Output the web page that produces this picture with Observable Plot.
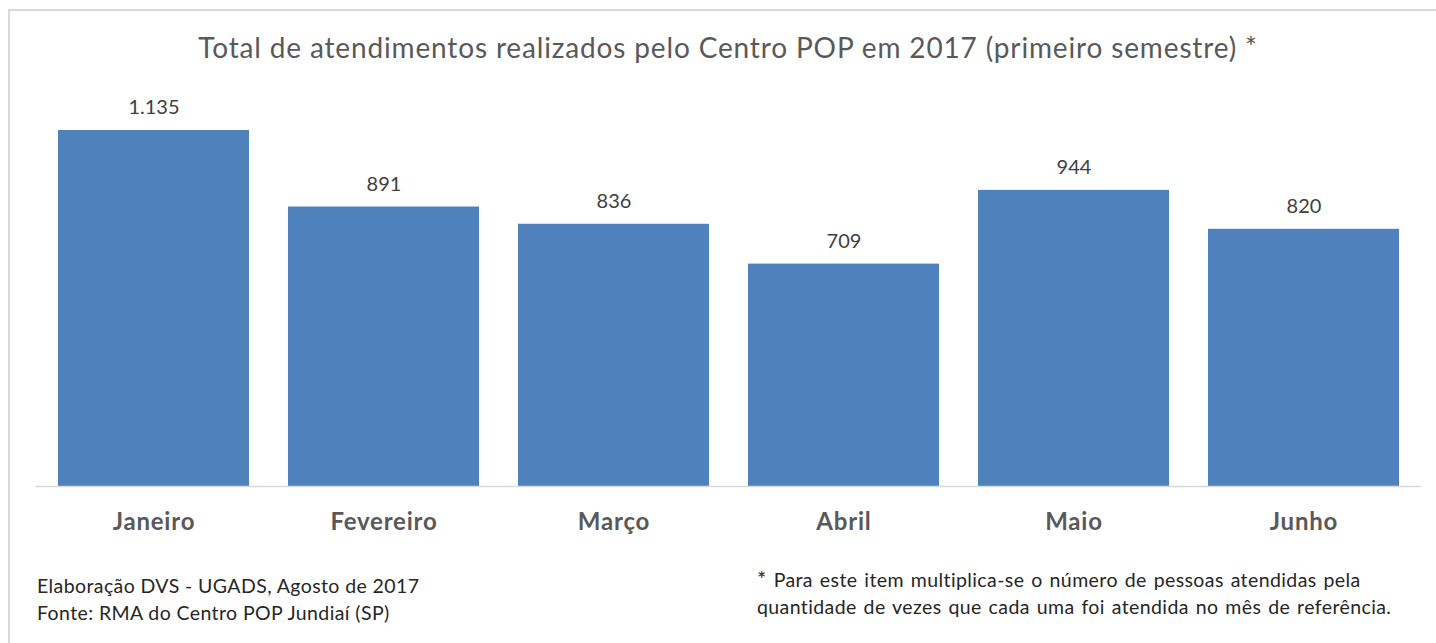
<!DOCTYPE html>
<html>
<head>
<meta charset="utf-8">
<script src="https://cdn.jsdelivr.net/npm/d3@7"></script>
<script src="https://cdn.jsdelivr.net/npm/@observablehq/plot@0.6"></script>
<style>
  html, body { margin: 0; padding: 0; background: #fff; }
  #wrap { position: relative; width: 1436px; height: 643px; overflow: hidden; font-family: Lato, "Open Sans", sans-serif; }
  #frame { position: absolute; left: 8px; top: 9px; right: -10px; bottom: -10px; border-left: 2px solid #d9d9d9; border-top: 2px solid #d9d9d9; }
  #chart { position: absolute; left: 0; top: 0; }
  .note { position: absolute; white-space: nowrap; }
  #title { top: 30px; left: 0; width: 1456px; text-align: center; font-size: 28px; letter-spacing: 0.85px; color: #595959; }
  #src { left: 37px; top: 572px; font-size: 19.5px; line-height: 27px; letter-spacing: 0.4px; color: #262626; }
  #star { left: 757px; top: 565px; font-size: 19.5px; line-height: 27px; letter-spacing: 0.4px; word-spacing: 1.5px; color: #262626; }
  #chart svg g[aria-label="x-axis tick label"] text { letter-spacing: 0.8px; }
</style>
</head>
<body>
<div id="wrap">
  <div id="frame"></div>
  <div id="chart"></div>
  <div id="title" class="note">Total de atendimentos realizados pelo Centro POP em 2017 (primeiro semestre) *</div>
  <div id="src" class="note">Elaboração DVS - UGADS, Agosto de 2017<br>Fonte: RMA do Centro POP Jundiaí (SP)</div>
  <div id="star" class="note"><span style="font-size:22px">*</span> Para este item multiplica-se o número de pessoas atendidas pela<br>quantidade de vezes que cada uma foi atendida no mês de referência.</div>
</div>
<script>
const months = ["Janeiro", "Fevereiro", "Março", "Abril", "Maio", "Junho"];
const totals = [1135, 891, 836, 709, 944, 820];

const data = months.map((m, i) => ({month: m, value: totals[i]}));
const ptBR = d3.formatLocale({decimal: ",", thousands: ".", grouping: [3], currency: ["R$", ""]});
const fmt = ptBR.format(",d");

const chart = Plot.plot({
  width: 1436,
  height: 643,
  marginLeft: 35.5,
  marginRight: 15,
  marginTop: 109.6,
  marginBottom: 157,
  style: {fontFamily: "Lato, 'Open Sans', sans-serif", background: "transparent"},
  x: {domain: months, paddingInner: 0.169, paddingOuter: 0.0845},
  y: {domain: [0, 1200], axis: null},
  marks: [
    Plot.barY(data, {x: "month", y: "value", fill: "#4f81bd"}),
    Plot.ruleY([0], {stroke: "#d9d9d9", strokeWidth: 1.5}),
    Plot.text(data, {x: "month", y: "value", text: d => fmt(d.value), lineAnchor: "bottom", dy: -16, fontSize: 20, fill: "#404040"}),
    Plot.axisX({tickSize: 0, tickPadding: 26, fontSize: 24, fontWeight: "bold", color: "#595959", label: null})
  ]
});
document.getElementById("chart").appendChild(chart);
</script>
</body>
</html>
